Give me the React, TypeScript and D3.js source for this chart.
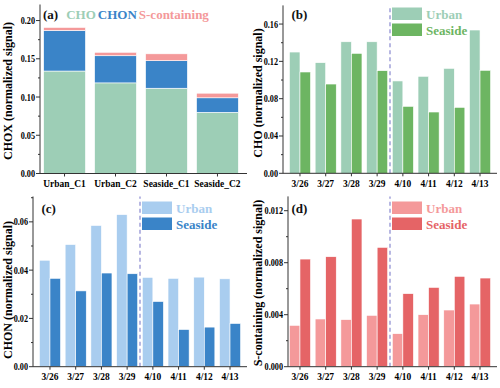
import React, { useEffect, useRef } from "react";
import * as d3 from "d3";

const stackCats = ["Urban_C1", "Urban_C2", "Seaside_C1", "Seaside_C2"];
const stackCHO = [0.134, 0.1185, 0.1115, 0.08];
const stackCHON = [0.053, 0.0355, 0.036, 0.019];
const stackS = [0.004, 0.0045, 0.009, 0.006];

const dates = ["3/26", "3/27", "3/28", "3/29", "4/10", "4/11", "4/12", "4/13"];
const choUrban = [0.13, 0.1186, 0.141, 0.141, 0.099, 0.104, 0.1125, 0.1536];
const choSeaside = [0.1086, 0.0957, 0.1286, 0.11, 0.0718, 0.0657, 0.0707, 0.1104];
const chonUrban = [0.0441, 0.0506, 0.0585, 0.063, 0.037, 0.0366, 0.0371, 0.0364];
const chonSeaside = [0.0366, 0.0314, 0.0388, 0.0385, 0.027, 0.0154, 0.0164, 0.0179];
const sUrban = [0.00318, 0.00367, 0.00362, 0.00395, 0.00254, 0.004, 0.00436, 0.00482];
const sSeaside = [0.00828, 0.00846, 0.01136, 0.00918, 0.00562, 0.0061, 0.00695, 0.00682];

const FONT = "'Liberation Serif', 'Times New Roman', serif";
const GREEN_L = "#9dceb6";
const GREEN_D = "#6db562";
const BLUE_L = "#a9cdef";
const BLUE_D = "#3a84c8";
const PINK_L = "#f4999a";
const PINK_D = "#e56466";

const App = () => {
    const ref = useRef(null);

    useEffect(() => {
        const svg = d3.select(ref.current);
        svg.selectAll("*").remove();

        // axes for one panel
        const drawAxes = (p, y, x, cats) => {
            const g = svg.append("g");
            g.append("line")
                .attr("x1", p.left).attr("x2", p.left)
                .attr("y1", p.bottom).attr("y2", p.top)
                .attr("stroke", "#333").attr("stroke-width", 1);
            g.append("line")
                .attr("x1", p.left).attr("x2", p.right)
                .attr("y1", p.bottom).attr("y2", p.bottom)
                .attr("stroke", "#333").attr("stroke-width", 1);

            const major = d3.range(0, p.yMax + 1e-9, p.step);
            const minor = d3.range(p.step / 2, p.yMax, p.step);
            minor.forEach((v) => {
                g.append("line")
                    .attr("x1", p.left - 2).attr("x2", p.left)
                    .attr("y1", y(v)).attr("y2", y(v))
                    .attr("stroke", "#333");
            });
            major.forEach((v) => {
                g.append("line")
                    .attr("x1", p.left - 4).attr("x2", p.left)
                    .attr("y1", y(v)).attr("y2", y(v))
                    .attr("stroke", "#333");
                g.append("text")
                    .attr("transform", `translate(${p.left - 5},${y(v) + 3.5}) scale(0.82,1)`)
                    .attr("text-anchor", "end")
                    .attr("font-family", FONT)
                    .attr("font-weight", "bold")
                    .attr("font-size", 10)
                    .text(d3.format(p.fmt)(v));
            });

            cats.forEach((c) => {
                const cx = x(c) + x.bandwidth() / 2;
                g.append("line")
                    .attr("x1", cx).attr("x2", cx)
                    .attr("y1", p.bottom).attr("y2", p.bottom + 3)
                    .attr("stroke", "#333");
                g.append("text")
                    .attr("transform", `translate(${cx},${p.bottom + 13.5}) scale(0.86,1)`)
                    .attr("text-anchor", "middle")
                    .attr("font-family", FONT)
                    .attr("font-weight", "bold")
                    .attr("font-size", 11)
                    .text(c);
            });

            g.append("text")
                .attr("transform", `translate(${p.labelX},${p.labelY}) rotate(-90)`)
                .attr("text-anchor", "middle")
                .attr("font-family", FONT)
                .attr("font-weight", "bold")
                .attr("font-size", 12)
                .text(p.label);
        };

        // panel (a) stacked bars
        const pa = { left: 40, right: 247, top: 4.5, bottom: 173.5, yMax: 0.221, step: 0.05, fmt: ".2f",
            label: "CHOX (normalized signal)", labelX: 12, labelY: 91 };
        const ya = d3.scaleLinear().domain([0, pa.yMax]).range([pa.bottom, pa.top]);
        const xa = d3.scaleBand().domain(stackCats).range([36, 246]).paddingInner(0.18).paddingOuter(0.15);
        const stackRows = stackCats.map((c, i) => ({ cat: c, CHO: stackCHO[i], CHON: stackCHON[i], S: stackS[i] }));
        const series = d3.stack().keys(["CHO", "CHON", "S"])(stackRows);
        const stackColors = { CHO: GREEN_L, CHON: BLUE_D, S: PINK_L };
        series.forEach((s) => {
            svg.append("g")
                .selectAll("rect")
                .data(s)
                .join("rect")
                .attr("x", (d) => xa(d.data.cat))
                .attr("width", xa.bandwidth())
                .attr("y", (d) => ya(d[1]))
                .attr("height", (d) => ya(d[0]) - ya(d[1]))
                .attr("fill", stackColors[s.key])
                .attr("stroke", "#fff")
                .attr("stroke-width", 0.6);
        });
        drawAxes(pa, ya, xa, stackCats);
        const title = svg.append("text")
            .attr("x", 43).attr("y", 19)
            .attr("font-family", FONT).attr("font-weight", "bold").attr("font-size", 13);
        title.append("tspan").attr("fill", "#111").text("(a)");
        title.append("tspan").attr("fill", GREEN_L).attr("dx", 8).text("CHO");
        title.append("tspan").attr("fill", BLUE_D).attr("dx", 2).text("CHON");
        title.append("tspan").attr("fill", PINK_L).attr("dx", 2).text("S-containing");

        // grouped panels
        const panels = [
            { tag: "(b)", ox: 250, left: 283, right: 497, top: 5.4, bottom: 173.3, yMax: 0.18, step: 0.04, fmt: ".2f",
              label: "CHO (normalized signal)", labelX: 262, labelY: 93, u: choUrban, s: choSeaside, cu: GREEN_L, cs: GREEN_D, oy: 0 },
            { tag: "(c)", ox: 0, left: 33, right: 247, top: 196.5, bottom: 366.7, yMax: 0.0705, step: 0.02, fmt: ".2f",
              label: "CHON (normalized signal)", labelX: 12, labelY: 290, u: chonUrban, s: chonSeaside, cu: BLUE_L, cs: BLUE_D, oy: 194 },
            { tag: "(d)", ox: 250, left: 288, right: 497, top: 196.4, bottom: 366.7, yMax: 0.0131, step: 0.004, fmt: ".3f",
              label: "S-containing (normalized signal)", labelX: 262, labelY: 283, u: sUrban, s: sSeaside, cu: PINK_L, cs: PINK_D, oy: 194 },
        ];

        panels.forEach((p) => {
            const y = d3.scaleLinear().domain([0, p.yMax]).range([p.bottom, p.top]);
            const x = d3.scaleBand().domain(dates).range([p.ox + 33, p.ox + 247]).paddingInner(0.18).paddingOuter(0.25);
            const sub = d3.scaleBand().domain(["Urban", "Seaside"]).range([0, x.bandwidth()]);
            const rows = dates.map((d, i) => ({ date: d, Urban: p.u[i], Seaside: p.s[i] }));

            const colors = { Urban: p.cu, Seaside: p.cs };
            svg.append("g")
                .selectAll("g.grp")
                .data(rows)
                .join("g")
                .attr("class", "grp")
                .attr("transform", (d) => `translate(${x(d.date)},0)`)
                .selectAll("rect")
                .data((d) => ["Urban", "Seaside"].map((k) => ({ k, v: d[k] })))
                .join("rect")
                .attr("x", (d) => sub(d.k))
                .attr("width", sub.bandwidth())
                .attr("y", (d) => y(d.v))
                .attr("height", (d) => y(0) - y(d.v))
                .attr("fill", (d) => colors[d.k])
                .attr("stroke", "#fff")
                .attr("stroke-width", 0.6);

            // dashed separator between campaigns
            const sepX = (x("3/29") + x.bandwidth() + x("4/10")) / 2;
            svg.append("line")
                .attr("x1", sepX).attr("x2", sepX)
                .attr("y1", p.bottom).attr("y2", p.top)
                .attr("stroke", "#9a9ad6")
                .attr("stroke-width", 1.4)
                .attr("stroke-dasharray", "4,3");

            drawAxes(p, y, x, dates);

            svg.append("text")
                .attr("x", p.ox + 41.5).attr("y", p.oy + 18.5)
                .attr("font-family", FONT).attr("font-weight", "bold").attr("font-size", 13)
                .attr("fill", "#111")
                .text(p.tag);

            // legend
            const lg = svg.append("g");
            ["Urban", "Seaside"].forEach((k, i) => {
                lg.append("rect")
                    .attr("x", p.ox + 142).attr("y", p.oy + 7.5 + i * 16)
                    .attr("width", 30).attr("height", 12.5)
                    .attr("fill", colors[k]);
                lg.append("text")
                    .attr("x", p.ox + 176).attr("y", p.oy + 18.5 + i * 16)
                    .attr("font-family", FONT).attr("font-weight", "bold").attr("font-size", 13)
                    .attr("fill", colors[k])
                    .text(k);
            });
        });
    }, []);

    return <svg ref={ref} width={500} height={388} style={{ display: "block", position: "absolute", left: 0, top: 0, background: "#fff" }} />;
};

export default App;
